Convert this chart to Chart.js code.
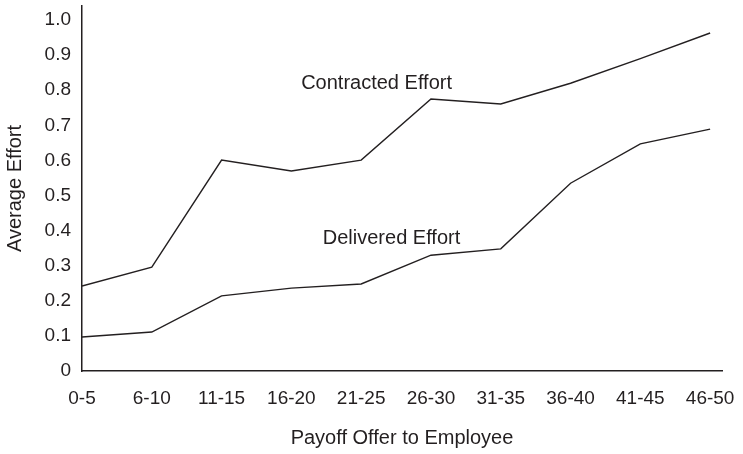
<!DOCTYPE html>
<html>
<head>
<meta charset="utf-8">
<script src="https://cdn.jsdelivr.net/npm/chart.js@4"></script>
<style>
  html, body { margin: 0; padding: 0; background: #fff; }
  #wrap { width: 743px; height: 454px; }
</style>
</head>
<body>
<div id="wrap"><canvas id="effort-chart"></canvas></div>
<script>
const categories = ['0-5', '6-10', '11-15', '16-20', '21-25', '26-30', '31-35', '36-40', '41-45', '46-50'];
const contracted = [0.242, 0.296, 0.601, 0.570, 0.601, 0.775, 0.761, 0.820, 0.890, 0.963];
const delivered = [0.097, 0.111, 0.214, 0.236, 0.248, 0.330, 0.348, 0.535, 0.647, 0.689];
const yTicks = [0, 0.1, 0.2, 0.3, 0.4, 0.5, 0.6, 0.7, 0.8, 0.9, 1.0];

const ink = '#231f20';
const family = '"Liberation Sans", Arial, sans-serif';
const tickFont = {family: family, size: 19};
const titleFont = {family: family, size: 20};

const toPoints = (values) => values.map((v, i) => ({x: i, y: v}));

// text labels next to the two lines, placed in data coordinates
const lineLabels = {
    id: 'lineLabels',
    afterDatasetsDraw: (chart) => {
        const {ctx, scales: {x, y}} = chart;
        ctx.save();
        ctx.font = titleFont.size + 'px ' + family;
        ctx.fillStyle = ink;
        ctx.textAlign = 'left';
        ctx.textBaseline = 'middle';
        ctx.fillText('Contracted Effort', x.getPixelForValue(3.14), y.getPixelForValue(0.82));
        ctx.fillText('Delivered Effort', x.getPixelForValue(3.45), y.getPixelForValue(0.379));
        ctx.restore();
    }
};

const lineStyle = {
    borderColor: ink,
    borderWidth: 1.4,
    pointRadius: 0,
    tension: 0,
    fill: false
};

new Chart(document.getElementById('effort-chart'), {
    type: 'line',
    data: {
        datasets: [
            Object.assign({label: 'Contracted Effort', data: toPoints(contracted)}, lineStyle),
            Object.assign({label: 'Delivered Effort', data: toPoints(delivered)}, lineStyle)
        ]
    },
    options: {
        responsive: true,
        maintainAspectRatio: false,
        animation: false,
        layout: {padding: {left: 0, right: 21, top: 6, bottom: 0}},
        plugins: {legend: {display: false}, tooltip: {enabled: false}},
        scales: {
            x: {
                type: 'linear',
                min: 0,
                max: 9.17,
                afterBuildTicks: (scale) => { scale.ticks = categories.map((c, i) => ({value: i})); },
                afterFit: (scale) => {
                    scale.height = 83;
                    scale.paddingLeft = 0;
                    scale.paddingRight = 0;
                },
                grid: {display: false, drawTicks: false},
                border: {display: true, color: ink, width: 1.5},
                ticks: {
                    color: ink, font: tickFont, padding: 16, maxRotation: 0, autoSkip: false,
                    callback: (value) => categories[value]
                },
                title: {display: true, text: 'Payoff Offer to Employee', color: ink, font: titleFont, padding: {top: 20, bottom: 4}}
            },
            y: {
                min: 0,
                max: 1.04,
                afterBuildTicks: (scale) => { scale.ticks = yTicks.map((v) => ({value: v})); },
                afterFit: (scale) => {
                    scale.width = 82;
                    scale.paddingTop = 0;
                    scale.paddingBottom = 0;
                },
                grid: {display: false, drawTicks: false},
                border: {display: true, color: ink, width: 1.5},
                ticks: {
                    color: ink, font: tickFont, padding: 11,
                    callback: (value) => value === 0 ? '0' : value.toFixed(1)
                },
                title: {display: true, text: 'Average Effort', color: ink, font: titleFont, padding: {top: 3, bottom: 4}}
            }
        }
    },
    plugins: [lineLabels]
});
</script>
</body>
</html>
